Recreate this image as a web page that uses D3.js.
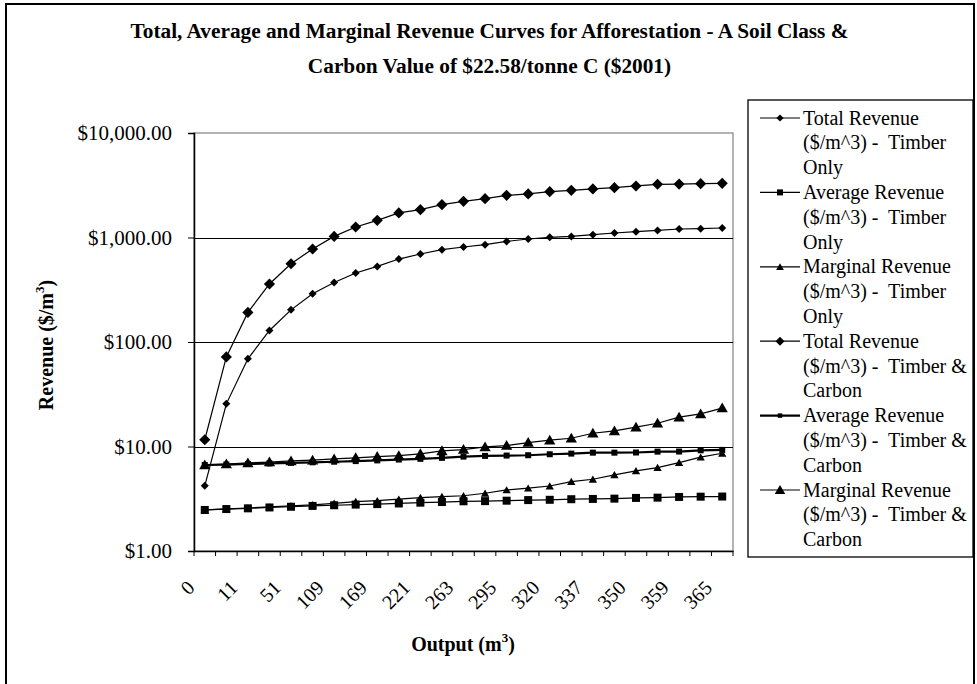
<!DOCTYPE html>
<html>
<head>
<meta charset="utf-8">
<script src="https://cdn.jsdelivr.net/npm/d3@7"></script>
<style>
  body { margin: 0; background: #fff; }
  svg { display: block; font-family: "Liberation Serif", "Times New Roman", serif; }
  text { white-space: pre; }
</style>
</head>
<body>
<svg id="chart" width="977" height="684"></svg>
<script>
// Output levels (m^3) along the category axis
const outputs = [0, 3, 11, 28, 51, 79, 109, 139, 169, 196, 221, 243, 263, 280, 295, 308, 320, 329, 337, 344, 350, 355, 359, 362, 365];
// Every second output level carries a label
const labelledOutputs = [0, 11, 51, 109, 169, 221, 263, 295, 320, 337, 350, 359, 365];
const yTicks = [1, 10, 100, 1000, 10000];

// Revenue series ($/m^3)
const totalTimber = [4.2, 25.6, 69, 129, 203, 290, 371, 457, 529, 622, 695, 764, 811, 853, 918, 968, 1003, 1025, 1064, 1104, 1136, 1170, 1206, 1215, 1233];
const averageTimber = [2.47, 2.52, 2.56, 2.61, 2.65, 2.70, 2.74, 2.78, 2.81, 2.85, 2.90, 2.94, 2.99, 3.0, 3.03, 3.07, 3.09, 3.13, 3.15, 3.17, 3.22, 3.24, 3.29, 3.31, 3.32];
const marginalTimber = [2.47, 2.53, 2.58, 2.64, 2.70, 2.76, 2.86, 2.97, 3.03, 3.13, 3.24, 3.31, 3.38, 3.57, 3.84, 3.99, 4.19, 4.61, 4.86, 5.35, 5.84, 6.28, 7.01, 7.90, 8.62];
const totalCarbon = [11.6, 72, 192, 359, 561, 776, 1025, 1261, 1459, 1718, 1847, 2061, 2218, 2353, 2530, 2612, 2746, 2827, 2916, 3000, 3113, 3229, 3245, 3276, 3300];
const averageCarbon = [6.65, 6.72, 6.8, 6.88, 6.97, 7.06, 7.15, 7.25, 7.36, 7.5, 7.62, 7.78, 8.0, 8.13, 8.19, 8.25, 8.43, 8.55, 8.73, 8.73, 8.76, 8.93, 8.95, 9.2, 9.28];
const marginalCarbon = [6.66, 6.8, 6.96, 7.1, 7.27, 7.4, 7.6, 7.8, 8.0, 8.17, 8.5, 9.08, 9.35, 9.9, 10.2, 10.9, 11.5, 12.0, 13.4, 14.1, 15.3, 16.7, 19.1, 20.5, 23.3];

const seriesNames = [
  ["Total Revenue", "($/m^3) -  Timber", "Only"],
  ["Average Revenue", "($/m^3) -  Timber", "Only"],
  ["Marginal Revenue", "($/m^3) -  Timber", "Only"],
  ["Total Revenue", "($/m^3) -  Timber &", "Carbon"],
  ["Average Revenue", "($/m^3) -  Timber &", "Carbon"],
  ["Marginal Revenue", "($/m^3) -  Timber &", "Carbon"]
];
const seriesValues = [totalTimber, averageTimber, marginalTimber, totalCarbon, averageCarbon, marginalCarbon];

// Marker shape, marker area and line width for each series
const seriesStyle = [
  { shape: "diamond",  size: 32, legendSize: 26, width: 1.2 },
  { shape: "square",   size: 64, legendSize: 36, width: 1.2 },
  { shape: "triangle", size: 30, legendSize: 26, width: 1.2 },
  { shape: "diamond",  size: 62, legendSize: 40, width: 1.2 },
  { shape: "square",   size: 36, legendSize: 20, width: 2.2 },
  { shape: "triangle", size: 55, legendSize: 48, width: 1.2 }
];

const svg = d3.select("#chart");
const plot = { left: 194, right: 733, top: 133, bottom: 551 };

// Outer chart frame
svg.append("rect")
  .attr("x", 6).attr("y", 4).attr("width", 968).attr("height", 700)
  .attr("fill", "#fff").attr("stroke", "#000").attr("stroke-width", 2);

// Title
const title = svg.append("text")
  .attr("text-anchor", "middle").attr("font-weight", "bold").attr("font-size", 21.3);
title.append("tspan").attr("x", 489.5).attr("y", 38)
  .text("Total, Average and Marginal Revenue Curves for Afforestation - A Soil Class &");
title.append("tspan").attr("x", 489.5).attr("y", 73)
  .text("Carbon Value of $22.58/tonne C ($2001)");

const x = d3.scaleBand().domain(outputs.map(String)).range([plot.left, plot.right]).padding(0);
const cx = i => x(String(outputs[i])) + x.bandwidth() / 2;
const y = d3.scaleLog().domain([1, 10000]).range([plot.bottom, plot.top]);

// Plot area frame and horizontal gridlines
svg.append("rect")
  .attr("x", plot.left).attr("y", plot.top)
  .attr("width", plot.right - plot.left).attr("height", plot.bottom - plot.top)
  .attr("fill", "none").attr("stroke", "#808080").attr("stroke-width", 1.2);
svg.append("g").selectAll("line")
  .data(yTicks.slice(1, -1))
  .join("line")
  .attr("x1", plot.left).attr("x2", plot.right)
  .attr("y1", d => Math.round(y(d)) + 0.5).attr("y2", d => Math.round(y(d)) + 0.5)
  .attr("stroke", "#000").attr("stroke-width", 1);

// Y axis
const yAxis = svg.append("g")
  .attr("transform", `translate(${plot.left},0)`)
  .call(d3.axisLeft(y).tickValues(yTicks).tickFormat(d3.format("$,.2f")).tickSize(6).tickPadding(16));
yAxis.select(".domain").attr("stroke", "#000").attr("stroke-width", 1.5);
yAxis.selectAll(".tick line").attr("stroke", "#000");
yAxis.selectAll("text").attr("font-size", 21).attr("font-family", "Liberation Serif").attr("fill", "#000");

// X axis
const xAxis = svg.append("g")
  .attr("transform", `translate(0,${plot.bottom})`)
  .call(d3.axisBottom(x).tickValues(labelledOutputs.map(String)).tickSize(0).tickFormat(d => d));
xAxis.select(".domain").attr("stroke", "#000").attr("stroke-width", 1.5);
xAxis.selectAll(".tick text")
  .attr("font-size", 20).attr("font-family", "Liberation Serif").attr("fill", "#000")
  .attr("text-anchor", "end").attr("dy", null).attr("y", 0)
  .attr("transform", "translate(-9,38) rotate(-45)");
// Small tick marks between categories
svg.append("g").selectAll("line")
  .data(d3.range(outputs.length + 1))
  .join("line")
  .attr("x1", i => plot.left + i * x.bandwidth()).attr("x2", i => plot.left + i * x.bandwidth())
  .attr("y1", plot.bottom).attr("y2", plot.bottom + 5)
  .attr("stroke", "#000").attr("stroke-width", 1);

// Axis titles
const xTitle = svg.append("text")
  .attr("x", 463).attr("y", 651).attr("text-anchor", "middle")
  .attr("font-weight", "bold").attr("font-size", 20);
xTitle.append("tspan").text("Output (m");
xTitle.append("tspan").attr("font-size", 13).attr("dy", -9).text("3");
xTitle.append("tspan").attr("dy", 9).text(")");

const yTitle = svg.append("text")
  .attr("transform", "translate(53,345) rotate(-90)").attr("text-anchor", "middle")
  .attr("font-weight", "bold").attr("font-size", 20);
yTitle.append("tspan").text("Revenue ($/m");
yTitle.append("tspan").attr("font-size", 13).attr("dy", -9).text("3");
yTitle.append("tspan").attr("dy", 9).text(")");

// Marker path generator
function markerPath(shape, size) {
  if (shape === "diamond") return d3.symbol(d3.symbolSquare, size)();
  if (shape === "square") return d3.symbol(d3.symbolSquare, size)();
  return d3.symbol(d3.symbolTriangle, size)();
}
function markerTransform(shape, px, py) {
  if (shape === "diamond") return `translate(${px},${py}) rotate(45)`;
  if (shape === "triangle") return `translate(${px},${py + 1})`;
  return `translate(${px},${py})`;
}

const line = d3.line().x((d, i) => cx(i)).y(d => y(d));

// Series lines and markers
seriesValues.forEach((values, s) => {
  const st = seriesStyle[s];
  const g = svg.append("g");
  g.append("path")
    .attr("d", line(values))
    .attr("fill", "none").attr("stroke", "#000").attr("stroke-width", st.width);
  g.selectAll("path.m")
    .data(values)
    .join("path")
    .attr("class", "m")
    .attr("d", markerPath(st.shape, st.size))
    .attr("transform", (d, i) => markerTransform(st.shape, cx(i), y(d)))
    .attr("fill", "#000");
});

// Legend
const legend = { left: 748, top: 100, right: 973, bottom: 557, firstRow: 118, rowStep: 24.8 };
svg.append("rect")
  .attr("x", legend.left).attr("y", legend.top)
  .attr("width", legend.right - legend.left).attr("height", legend.bottom - legend.top)
  .attr("fill", "#fff").attr("stroke", "#000").attr("stroke-width", 1.3);

seriesNames.forEach((lines, s) => {
  const st = seriesStyle[s];
  const rowY = legend.firstRow + s * 3 * legend.rowStep;
  const g = svg.append("g");
  g.append("line")
    .attr("x1", 760).attr("x2", 800).attr("y1", rowY).attr("y2", rowY)
    .attr("stroke", "#000").attr("stroke-width", st.width);
  g.append("path")
    .attr("d", markerPath(st.shape, st.legendSize))
    .attr("transform", markerTransform(st.shape, 780, rowY))
    .attr("fill", "#000");
  const t = g.append("text").attr("font-size", 20).attr("fill", "#000");
  lines.forEach((txt, k) => {
    t.append("tspan").attr("x", 803).attr("y", rowY + 6.5 + k * legend.rowStep).text(txt);
  });
});
</script>
</body>
</html>
